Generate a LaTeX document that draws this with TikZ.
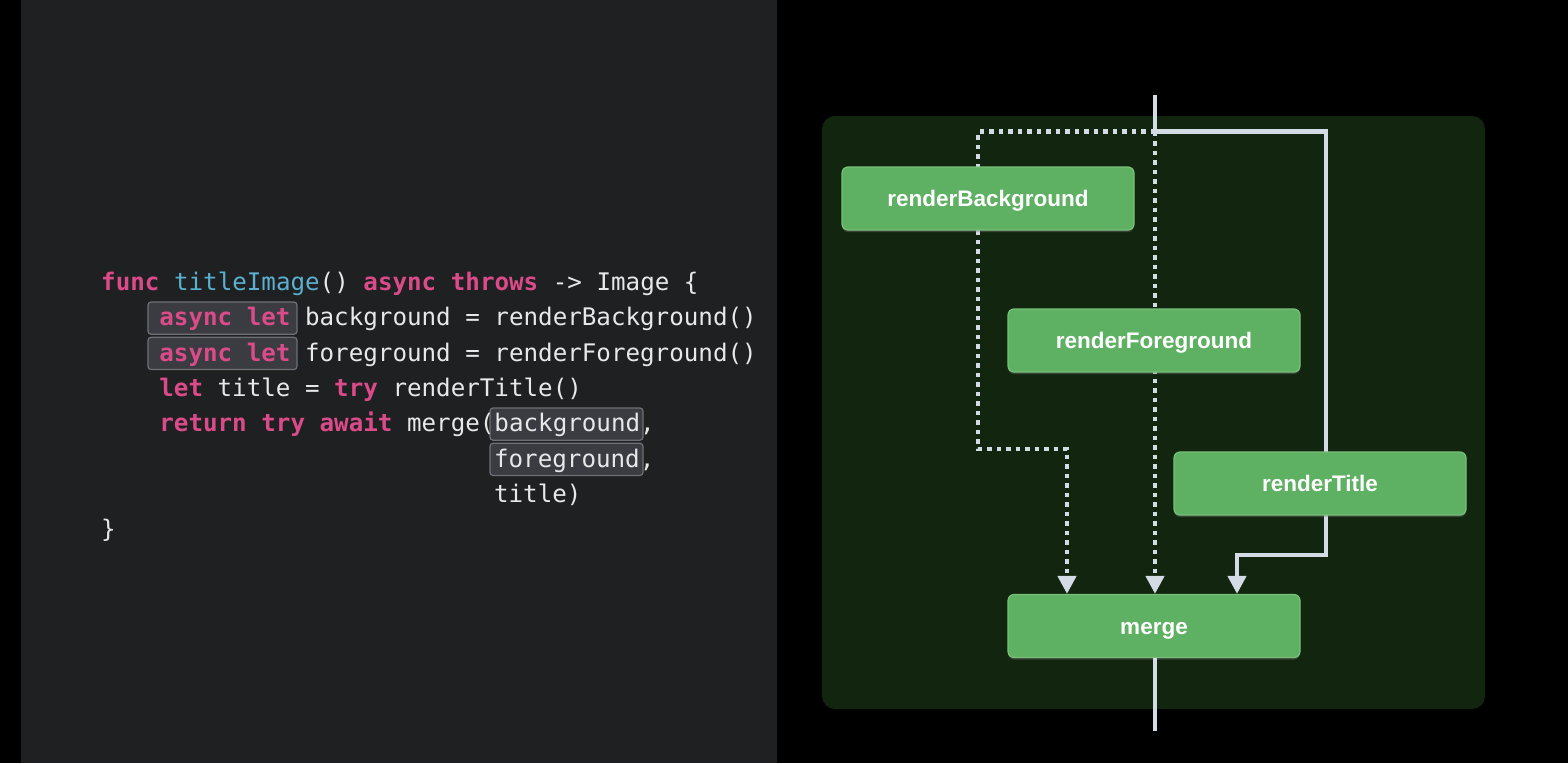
\documentclass[tikz,border=0pt]{standalone}
\usepackage{fontspec}
\usetikzlibrary{arrows.meta,shadows}
\newfontfamily\codefont{DejaVu Sans Mono}
\newfontfamily\boxfont{Liberation Sans}
\definecolor{leftbg}{HTML}{1F2022}
\definecolor{greenbg}{HTML}{12260F}
\definecolor{boxfill}{HTML}{5EB062}
\definecolor{boxline}{HTML}{78C07A}
\definecolor{wire}{HTML}{D3DBE5}
\definecolor{codetext}{HTML}{E8E8E8}
\definecolor{kwc}{HTML}{DB4B89}
\definecolor{fnc}{HTML}{5BB0CF}
\definecolor{hlfill}{HTML}{3A3C42}
\definecolor{hlline}{HTML}{6E7076}
\newcommand{\kw}[1]{\textcolor{kwc}{\bfseries #1}}
\newcommand{\fnm}[1]{\textcolor{fnc}{#1}}
\tikzset{
  codeline/.style={anchor=base west, inner sep=0pt, text=codetext,
    font=\codefont\fontsize{24.2}{35.3}\selectfont},
  hlbox/.style={fill=hlfill, draw=hlline, line width=1.2pt, rounded corners=3pt},
  gbox/.style={rectangle, rounded corners=6pt, fill=boxfill, draw=boxline, line width=1.2pt,
    minimum width=292pt, minimum height=63pt, text=white, inner sep=0pt,
    text height=20pt, text depth=3.4pt,
    font=\boxfont\bfseries\fontsize{22.5}{27}\selectfont,
    drop shadow={opacity=0.35, shadow xshift=0pt, shadow yshift=-2pt}},
  solidwire/.style={draw=wire, line width=4.3pt},
  dotwire/.style={draw=wire, line width=4.5pt, dash pattern=on 4.5pt off 5pt},
  tipwire/.style={draw=wire, line width=4.3pt, -{Triangle[length=18pt,width=18pt]}}
}
\begin{document}
\begin{tikzpicture}[x=1pt,y=-1pt]
\useasboundingbox (0,0) rectangle (1568,763);
\fill[black] (0,0) rectangle (1568,763);
\fill[leftbg] (21,0) rectangle (777,763);
\fill[greenbg, rounded corners=13pt] (822,116) rectangle (1485,709);

% highlight boxes
\draw[hlbox] (148,302) rectangle (297,334.2);
\draw[hlbox] (148,337.3) rectangle (297,369.5);
\draw[hlbox] (490,408) rectangle (643,440.2);
\draw[hlbox] (490,443.3) rectangle (643,475.5);

% code lines
\node[codeline] (l1) at (101,290.5) {\kw{func} \fnm{titleImage}() \kw{async} \kw{throws} -> Image \{};
\node[codeline] (l2) at (159.2,325.8) {\kw{async let} background = renderBackground()};
\node[codeline] (l3) at (159.2,361.1) {\kw{async let} foreground = renderForeground()};
\node[codeline] (l4) at (159.2,396.4) {\kw{let} title = \kw{try} renderTitle()};
\node[codeline] (l5) at (159.2,431.7) {\kw{return} \kw{try} \kw{await} merge(background,};
\node[codeline] (l6) at (493.9,467.0) {foreground,};
\node[codeline] (l7) at (493.9,502.3) {title)};
\node[codeline] (l8) at (101,537.6) {\}};

% coordinates for wires
\coordinate (top) at (1155,95);
\coordinate (sp) at (1155,131.5);
\coordinate (bot) at (1155,731);
\coordinate (rc) at (1326,131.5);
\coordinate (rj) at (1326,555);
\coordinate (rk) at (1237,555);
\coordinate (lc) at (978,131.5);
\coordinate (lj) at (978,449);
\coordinate (lk) at (1067,449);
\coordinate (la) at (1067,576);
\coordinate (ma) at (1155,576);

% wires
\draw[dotwire] (sp) -- (lc) -- (lj) -- (lk) -- (la);
\draw[dotwire] (sp) -- (ma);
\draw[solidwire, line cap=butt] (top) -- (1155,133.6);
\draw[solidwire, line join=miter] (1152.9,131.5) -- (rc) -- (rj) -- (rk) -- (1237,577);

% boxes
\node[gbox] (rb) at (988,198.5) {renderBackground};
\node[gbox] (rf) at (1154,340.5) {renderForeground};
\node[gbox] (rt) at (1320,483.5) {renderTitle};
\node[gbox] (mg) at (1154,626) {merge};

% arrow tips and exit
\draw[tipwire] (la) -- (la |- mg.north);
\draw[tipwire] (ma) -- (ma |- mg.north);
\draw[tipwire] (1237,575) -- (1237,0 |- mg.north);
\draw[solidwire] (mg.south -| bot) -- (bot);
\end{tikzpicture}
\end{document}
